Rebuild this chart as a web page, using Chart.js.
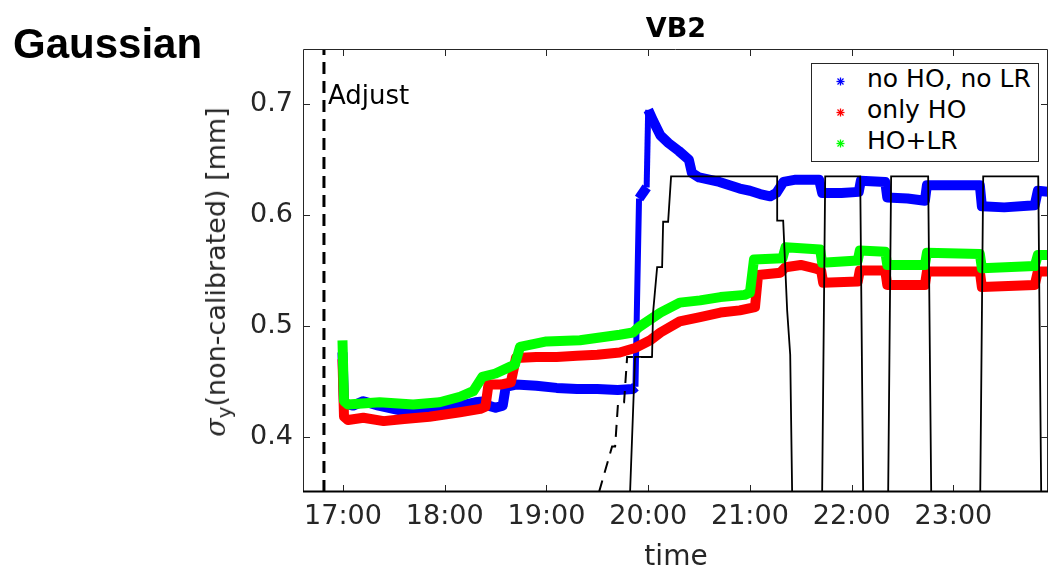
<!DOCTYPE html>
<html lang="en">
<head>
<meta charset="UTF-8">
<title>VB2 - Gaussian</title>
<script src="https://cdn.jsdelivr.net/npm/chart.js"></script>
<style>
  body { margin: 0; background: #fff; }
  #wrap { position: relative; width: 1048px; height: 571px; overflow: hidden; }
  #wrap div { position: absolute; white-space: nowrap; line-height: 1; }
  .gauss { left: 13px; top: 23px; font: bold 42px "Liberation Sans", Arial, sans-serif; color: #000; }
  .ttl { left: 676px; top: 14px; transform: translateX(-50%); font: bold 27px "DejaVu Sans", sans-serif; color: #000; }
  .xlab { left: 676px; top: 542px; transform: translateX(-50%); font: 28px "DejaVu Sans", sans-serif; color: #262626; }
  .ylab { left: 218px; top: 272px; transform: translate(-50%, -50%) rotate(-90deg); font: 27px "DejaVu Sans", sans-serif; color: #262626; }
  .ylab i { font-family: "DejaVu Serif", serif; }
  .ylab sub { font-size: 20px; vertical-align: -6px; line-height: 1; }
  .legend { left: 811px; top: 63px; width: 228px; height: 99px; box-sizing: border-box; border: 1px solid #262626; background: #fff; }
  .legend .row { position: absolute; left: 0; height: 31px; line-height: 31px; font: 25px "DejaVu Sans", sans-serif; color: #000; }
  .legend svg { position: absolute; left: 24px; top: 11px; }
  .legend span { position: absolute; left: 55px; top: 0; }
</style>
</head>
<body>
<div id="wrap">
  <canvas id="c" width="1048" height="571"></canvas>
  <div class="gauss">Gaussian</div>
  <div class="ttl">VB2</div>
  <div class="xlab">time</div>
  <div class="ylab"><i>σ</i><sub>y</sub>(non-calibrated) [mm]</div>
  <div class="legend" id="legend"></div>
</div>
<script>
// time in hours (17.5 = 17:30), sigma in mm
const xMin = 16.607, xMax = 23.93;
const yMin = 0.35, yMax = 0.75;
const xTicks = [17, 18, 19, 20, 21, 22, 23];
const yTicks = [0.4, 0.5, 0.6, 0.7];
const adjustTime = 16.813;

const blueT = [16.995, 17.01, 17.1, 17.2, 17.35, 17.55, 17.7, 17.85, 18.0, 18.15, 18.3, 18.4, 18.43, 18.5, 18.57, 18.6, 18.7, 18.9, 19.1, 19.3, 19.5, 19.7, 19.85, 19.875, 19.89, 19.91, 19.985, 20.0, 20.05, 20.12, 20.2, 20.3, 20.4, 20.43, 20.5, 20.7, 20.9, 21.0, 21.1, 21.2, 21.26, 21.33, 21.45, 21.68, 21.71, 21.9, 22.07, 22.09, 22.33, 22.35, 22.55, 22.72, 22.74, 23.0, 23.26, 23.28, 23.5, 23.8, 23.83, 23.93];
const blueV = [0.476, 0.430, 0.428, 0.432, 0.428, 0.424, 0.424, 0.426, 0.426, 0.428, 0.431, 0.432, 0.428, 0.426, 0.428, 0.445, 0.447, 0.446, 0.444, 0.443, 0.443, 0.442, 0.443, 0.445, 0.520, 0.615, 0.625, 0.695, 0.685, 0.672, 0.665, 0.658, 0.650, 0.638, 0.634, 0.630, 0.624, 0.622, 0.619, 0.617, 0.620, 0.630, 0.632, 0.632, 0.620, 0.620, 0.621, 0.631, 0.630, 0.616, 0.615, 0.613, 0.627, 0.627, 0.627, 0.608, 0.607, 0.609, 0.622, 0.621];

const redT = [16.995, 17.01, 17.05, 17.2, 17.4, 17.6, 17.85, 18.0, 18.15, 18.35, 18.40, 18.43, 18.55, 18.65, 18.70, 18.9, 19.1, 19.3, 19.5, 19.72, 19.87, 20.02, 20.12, 20.31, 20.51, 20.71, 20.9, 21.05, 21.08, 21.3, 21.35, 21.5, 21.64, 21.70, 21.72, 22.06, 22.08, 22.33, 22.35, 22.72, 22.74, 23.26, 23.28, 23.8, 23.83, 23.93];
const redV = [0.470, 0.418, 0.415, 0.417, 0.414, 0.416, 0.418, 0.420, 0.422, 0.425, 0.427, 0.447, 0.447, 0.449, 0.471, 0.472, 0.472, 0.473, 0.474, 0.476, 0.480, 0.487, 0.494, 0.504, 0.508, 0.512, 0.514, 0.517, 0.546, 0.548, 0.553, 0.555, 0.552, 0.550, 0.539, 0.540, 0.550, 0.550, 0.537, 0.537, 0.549, 0.549, 0.535, 0.537, 0.549, 0.549];

const greenT = [16.995, 17.01, 17.05, 17.36, 17.69, 17.95, 18.15, 18.28, 18.37, 18.5, 18.64, 18.69, 18.74, 19.0, 19.33, 19.72, 19.85, 19.91, 20.12, 20.31, 20.51, 20.71, 20.95, 21.0, 21.04, 21.32, 21.35, 21.69, 21.71, 22.06, 22.08, 22.33, 22.35, 22.72, 22.74, 23.26, 23.28, 23.8, 23.83, 23.93];
const greenV = [0.487, 0.432, 0.429, 0.431, 0.429, 0.431, 0.436, 0.441, 0.454, 0.457, 0.463, 0.465, 0.481, 0.486, 0.487, 0.492, 0.494, 0.499, 0.512, 0.521, 0.523, 0.526, 0.528, 0.530, 0.560, 0.561, 0.571, 0.569, 0.557, 0.559, 0.568, 0.567, 0.555, 0.555, 0.566, 0.565, 0.552, 0.554, 0.564, 0.564];

const blackT = [16.607, 19.822, 19.871, 20.038, 20.048, 20.088, 20.137, 20.147, 20.196, 20.225, 21.268, 21.268, 21.327, 21.366, 21.396, 21.415, 21.710, 21.740, 22.084, 22.113, 22.359, 22.388, 22.752, 22.782, 23.264, 23.293, 23.834, 23.863, 23.93];
const blackV = [0.35, 0.35, 0.472, 0.472, 0.512, 0.553, 0.553, 0.594, 0.594, 0.635, 0.635, 0.595, 0.595, 0.514, 0.474, 0.35, 0.35, 0.635, 0.635, 0.35, 0.35, 0.635, 0.635, 0.35, 0.35, 0.635, 0.635, 0.35, 0.35];

const dashT = [19.517, 19.645, 19.675, 19.704, 19.763, 19.793, 20.038];
const dashV = [0.35, 0.391, 0.391, 0.431, 0.431, 0.472, 0.472];

const seriesNames = ['no HO, no LR', 'only HO', 'HO+LR'];
const seriesColors = ['#0000ff', '#ff0000', '#00ff00'];

function pts(t, v) { return t.map((x, i) => ({ x: x, y: v[i] })); }

// legend drawn as html, asterisk markers like matlab '*'
const leg = document.getElementById('legend');
seriesNames.forEach((name, i) => {
    const c = seriesColors[i];
    leg.innerHTML += `<div class="row" style="top:${2 + i * 31}px">
      <svg width="9" height="9" viewBox="0 0 9 9" stroke="${c}" stroke-width="1.3">
        <line x1="0.5" y1="4.5" x2="8.5" y2="4.5"/><line x1="4.5" y1="0.5" x2="4.5" y2="8.5"/>
        <line x1="1.5" y1="1.5" x2="7.5" y2="7.5"/><line x1="7.5" y1="1.5" x2="1.5" y2="7.5"/>
      </svg><span>${name}</span></div>`;
});

// box, inward ticks and the "Adjust" note
const boxPlugin = {
    id: 'box',
    afterDraw(chart) {
        const ctx = chart.ctx, a = chart.chartArea;
        const xs = chart.scales.x, ys = chart.scales.y;
        ctx.save();
        ctx.strokeStyle = '#262626';
        ctx.lineWidth = 1;
        ctx.beginPath();
        ctx.moveTo(a.left + 0.5, a.bottom); ctx.lineTo(a.left + 0.5, a.top + 0.5);
        ctx.lineTo(a.right - 0.5, a.top + 0.5); ctx.lineTo(a.right - 0.5, a.bottom);
        xTicks.forEach(v => {
            const p = Math.round(xs.getPixelForValue(v)) + 0.5;
            ctx.moveTo(p, a.bottom); ctx.lineTo(p, a.bottom - 7);
            ctx.moveTo(p, a.top); ctx.lineTo(p, a.top + 7);
        });
        yTicks.forEach(v => {
            const p = Math.round(ys.getPixelForValue(v)) + 0.5;
            ctx.moveTo(a.left, p); ctx.lineTo(a.left + 7, p);
            ctx.moveTo(a.right, p); ctx.lineTo(a.right - 7, p);
        });
        ctx.stroke();
        ctx.lineWidth = 2;
        ctx.strokeStyle = '#000';
        ctx.beginPath();
        ctx.moveTo(a.left, a.bottom - 0.5); ctx.lineTo(a.right, a.bottom - 0.5);
        ctx.stroke();
        ctx.fillStyle = '#000';
        ctx.font = '26px "DejaVu Sans"';
        ctx.textBaseline = 'alphabetic';
        ctx.fillText('Adjust', xs.getPixelForValue(adjustTime) + 4, ys.getPixelForValue(0.7));
        ctx.restore();
    }
};

// the steep jump before 20:00 is only sparse markers in the original, so keep it thinner
const steep = c => (Math.abs(c.p1.parsed.y - c.p0.parsed.y) > 0.05 && c.p1.parsed.x > 19.8) ? 6 : 10;

const band = (t, v, color) => ({
    data: pts(t, v), showLine: true, borderColor: color, backgroundColor: color,
    borderWidth: 10, pointRadius: 0, borderJoinStyle: 'round',
    segment: { borderWidth: steep }
});

new Chart(document.getElementById('c'), {
    type: 'scatter',
    data: {
        datasets: [
            { data: pts(blackT, blackV), showLine: true, borderColor: '#000', borderWidth: 1.8, pointRadius: 0 },
            { data: pts(dashT, dashV), showLine: true, borderColor: '#000', borderWidth: 2, borderDash: [12, 8], pointRadius: 0 },
            { data: [{ x: adjustTime, y: yMin }, { x: adjustTime, y: yMax }], showLine: true, borderColor: '#000', borderWidth: 3, borderDash: [12, 7], pointRadius: 0 },
            band(greenT, greenV, seriesColors[2]),
            band(redT, redV, seriesColors[1]),
            band(blueT, blueV, seriesColors[0])
        ]
    },
    options: {
        responsive: false,
        animation: false,
        devicePixelRatio: 1,
        layout: { padding: { top: 49, right: 0, left: 0, bottom: 0 } },
        plugins: { legend: { display: false }, tooltip: { enabled: false } },
        scales: {
            x: {
                type: 'linear', min: xMin, max: xMax,
                grid: { display: false, drawTicks: false },
                border: { display: false },
                afterFit: s => { s.height = 79; },
                afterBuildTicks: s => { s.ticks = xTicks.map(v => ({ value: v })); },
                ticks: {
                    padding: 9, color: '#262626', maxRotation: 0,
                    font: { family: 'DejaVu Sans', size: 27 },
                    callback: v => v + ':00'
                }
            },
            y: {
                min: yMin, max: yMax,
                grid: { display: false, drawTicks: false },
                border: { display: false },
                afterFit: s => { s.width = 303; },
                afterBuildTicks: s => { s.ticks = yTicks.map(v => ({ value: v })); },
                ticks: {
                    padding: 10, color: '#262626',
                    font: { family: 'DejaVu Sans', size: 27 },
                    callback: v => v.toFixed(1)
                }
            }
        }
    },
    plugins: [boxPlugin]
});
</script>
</body>
</html>
